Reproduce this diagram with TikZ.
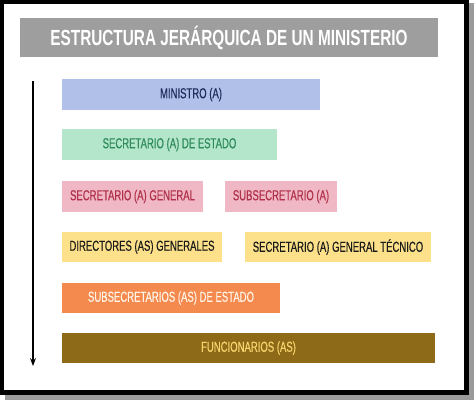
\documentclass[tikz,border=0pt]{standalone}
\usepackage{fontspec}
\setmainfont{Liberation Sans}[FakeStretch=0.70]
\newfontfamily\rankfont{Liberation Sans}[FakeStretch=0.66, FakeBold=0.4]
\usetikzlibrary{arrows.meta}
\definecolor{titlegray}{HTML}{9E9E9E}
\definecolor{shadowgray}{HTML}{9A9A9A}
\definecolor{blueF}{HTML}{B0C0E8}
\definecolor{blueT}{HTML}{1F2D5C}
\definecolor{greenF}{HTML}{B4E6CC}
\definecolor{greenT}{HTML}{2E8A58}
\definecolor{pinkF}{HTML}{F0B8C4}
\definecolor{pinkT}{HTML}{B0304A}
\definecolor{yellowF}{HTML}{FDE18A}
\definecolor{yellowT}{HTML}{1A1A1A}
\definecolor{orangeF}{HTML}{F58A4E}
\definecolor{orangeT}{HTML}{FFF4E8}
\definecolor{brownF}{HTML}{8C6A18}
\definecolor{brownT}{HTML}{F7D46C}
\tikzset{
  rank/.style={anchor=north west, inner sep=0pt, outer sep=0pt,
    font=\rankfont\fontsize{14.5}{17}\selectfont, minimum height=31bp},
  titlebar/.style={anchor=north west, inner sep=0pt, outer sep=0pt, fill=titlegray,
    text=white, font=\fontsize{22}{26}\selectfont\bfseries,
    minimum width=418bp, minimum height=39bp},
}
\begin{document}
\begin{tikzpicture}[x=1bp,y=-1bp]
\useasboundingbox (0,0) rectangle (474,400);
% frame
\fill[shadowgray] (5,3) rectangle (474,400);
\fill[black] (0,0) rectangle (469,395);
\fill[white] (4,4) rectangle (464,390);
% title
\node[titlebar] (title) at (20,18) {ESTRUCTURA JERÁRQUICA DE UN MINISTERIO};
% boxes
\node[rank, fill=blueF, text=blueT, minimum width=258bp] (min) at (62,79) {MINISTRO (A)};
\node[rank, fill=greenF, text=greenT, minimum width=215bp] (sed) at (62,129) {SECRETARIO (A) DE ESTADO};
\node[rank, fill=pinkF, text=pinkT, minimum width=141bp] (sg) at (62,181) {SECRETARIO (A) GENERAL};
\node[rank, fill=pinkF, text=pinkT, minimum width=112bp] (sub) at (225,181) {SUBSECRETARIO (A)};
\node[rank, fill=yellowF, text=yellowT, minimum width=160bp, minimum height=30bp] (dg) at (62,232) {DIRECTORES (AS) GENERALES};
\node[rank, fill=yellowF, text=yellowT, minimum width=186bp, minimum height=30bp] (sgt) at (245,232) {SECRETARIO (A) GENERAL TÉCNICO};
\node[rank, fill=orangeF, text=orangeT, minimum width=218bp, minimum height=30bp] (subs) at (62,283) {SUBSECRETARIOS (AS) DE ESTADO};
\node[rank, fill=brownF, text=brownT, minimum width=373bp, minimum height=30bp] (fun) at (62,333) {FUNCIONARIOS (AS)};
% arrow
\coordinate (atop) at (33,81);
\coordinate (abot) at (33,366);
\draw[line width=1.1bp, -{Stealth[length=8bp,width=6bp]}] (atop) -- (abot);
\end{tikzpicture}
\end{document}
